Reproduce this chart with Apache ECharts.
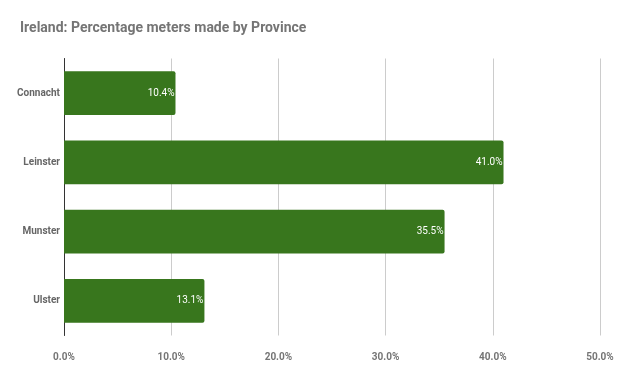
<!DOCTYPE html>
<html><head><meta charset="utf-8">
<script src="https://cdn.jsdelivr.net/npm/echarts@6/dist/echarts.min.js"></script>
<style>html,body{margin:0;padding:0;background:#fff}#c{width:620px;height:382px}</style>
</head><body><div id="c"></div>
<script>
const titleText = 'Ireland: Percentage meters made by Province';
const provinces = ['Connacht', 'Leinster', 'Munster', 'Ulster'];
const percentages = [10.4, 41.0, 35.5, 13.1];
const tickValues = [0, 10, 20, 30, 40, 50];

const chart = echarts.init(document.getElementById('c'), null, {renderer: 'canvas'});
chart.setOption({
  animation: false,
  backgroundColor: '#ffffff',
  textStyle: {fontFamily: 'Roboto'},
  title: {
    text: titleText, left: 15, top: 16,
    textStyle: {fontFamily: 'Roboto', fontSize: 14, fontWeight: 'bold', color: '#757575'}
  },
  grid: {left: 64, right: 20, top: 58.5, bottom: 46.5, containLabel: false},
  xAxis: {
    type: 'value', min: 0, max: 50, interval: 10,
    axisLine: {show: false}, axisTick: {show: false},
    splitLine: {lineStyle: {color: '#cccccc', width: 1}},
    axisLabel: {
      color: '#757575', fontSize: 10, fontWeight: 'bold', margin: 17,
      formatter: v => tickValues.includes(v) ? v.toFixed(1) + '%' : ''
    }
  },
  yAxis: {
    type: 'category', data: provinces, inverse: true,
    axisLine: {show: true, lineStyle: {color: '#333333', width: 1}},
    axisTick: {show: false},
    axisLabel: {color: '#666666', fontSize: 10, fontWeight: 'bold', margin: 4}
  },
  series: [{
    type: 'bar', data: percentages, barCategoryGap: '36.5%',
    itemStyle: {color: '#38761d', borderRadius: [0, 2, 2, 0]},
    label: {
      show: true, position: 'insideRight', distance: 1, color: '#ffffff', fontSize: 10,
      formatter: p => p.value.toFixed(1) + '%'
    }
  }]
});
</script></body></html>
